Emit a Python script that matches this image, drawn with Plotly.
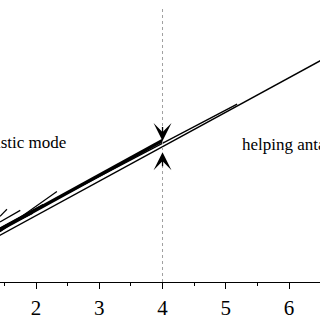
import plotly.graph_objects as go

# data (x in original axis units, y in arbitrary units)
thick_x = [1.40, 4.0]
thick_y = [1.82, 5.02]
lineA_x = [1.40, 6.8]
lineA_y = [1.62, 8.22]
lineB_x = [1.40, 5.18]
lineB_y = [1.86, 6.31]
short_lines = [
    ([1.43, 2.33], [1.78, 3.21]),
    ([1.43, 2.11], [1.92, 2.75]),
    ([1.43, 1.75], [2.13, 2.54]),
    ([1.43, 1.54], [2.33, 2.58]),
    ([1.64, 1.95], [2.09, 2.44]),
]
tick_vals = [2, 3, 4, 5, 6]
tick_text = ["2", "3", "4", "5", "6"]
boundary_x = 4
left_label = "synergistic mode"
right_label = "helping antagonistic mode"

fig = go.Figure()
for sx, sy in short_lines:
    fig.add_trace(go.Scatter(x=sx, y=sy, mode="lines", line=dict(color="black", width=1.2), showlegend=False))
fig.add_trace(go.Scatter(x=lineA_x, y=lineA_y, mode="lines", line=dict(color="black", width=1.4), showlegend=False))
fig.add_trace(go.Scatter(x=lineB_x, y=lineB_y, mode="lines", line=dict(color="black", width=1.4), showlegend=False))
fig.add_trace(go.Scatter(x=thick_x, y=thick_y, mode="lines", line=dict(color="black", width=3.5), showlegend=False))
fig.add_trace(go.Scatter(x=[boundary_x, boundary_x], y=[0, 9.72], mode="lines",
                         line=dict(color="#a0a0a0", width=1, dash="dot"), showlegend=False))

# arrowheads
fig.add_annotation(x=boundary_x, y=5.0, ax=boundary_x, ay=5.55, xref="x", yref="y", axref="x", ayref="y",
                   text="", showarrow=True, arrowhead=3, arrowsize=2.3, arrowwidth=1.3, arrowcolor="black", standoff=0)
fig.add_annotation(x=boundary_x, y=4.6, ax=boundary_x, ay=4.05, xref="x", yref="y", axref="x", ayref="y",
                   text="", showarrow=True, arrowhead=3, arrowsize=2.3, arrowwidth=1.3, arrowcolor="black", standoff=0)

fig.add_annotation(x=2.506, y=4.95, text=left_label, showarrow=False, xanchor="right", yanchor="middle",
                   font=dict(family="Liberation Serif", size=17, color="black"))
fig.add_annotation(x=5.23, y=4.88, text=right_label, showarrow=False, xanchor="left", yanchor="middle",
                   font=dict(family="Liberation Serif", size=17, color="black"))

fig.update_xaxes(range=[1.43, 6.49], tickvals=tick_vals, ticktext=tick_text, showline=True, linecolor="black",
                 linewidth=1.3, ticks="outside", ticklen=6, tickwidth=1.2, tickcolor="black", showgrid=False,
                 zeroline=False, tickfont=dict(family="Liberation Serif", size=21, color="black"),
                 ticklabelstandoff=1,
                 minor=dict(dtick=0.5, tick0=0, ticks="outside", ticklen=3, tickwidth=1, tickcolor="black"))
fig.update_yaxes(range=[0, 10], visible=False, showgrid=False)
fig.update_layout(width=320, height=320, margin=dict(l=0, r=0, t=0, b=33),
                  plot_bgcolor="white", paper_bgcolor="white")
fig.write_html("out.html")
